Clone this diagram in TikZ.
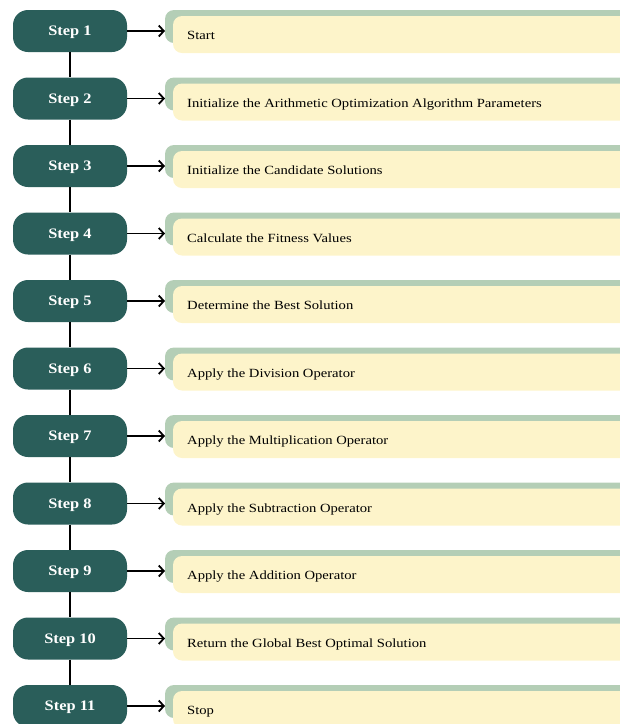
\documentclass[tikz,border=0pt]{standalone}
\usepackage{fontspec}
\setmainfont{Liberation Serif}
\newfontfamily\widefont[FakeStretch=1.17]{Liberation Serif}
\newfontfamily\widebold[FakeStretch=1.13]{Liberation Serif Bold}
\usetikzlibrary{arrows.meta}
\definecolor{teal}{RGB}{42,94,90}
\definecolor{backgreen}{RGB}{180,206,182}
\definecolor{paleyellow}{RGB}{253,244,202}
\tikzset{
  stepbox/.style={draw=none,fill=teal,rounded corners=15pt,minimum width=114pt,minimum height=42pt,
    text=white,font=\widebold\fontsize{14.5}{16}\selectfont,inner sep=0pt,text height=9.5pt,text depth=0pt},
  desc/.style={anchor=base west,font=\widefont\fontsize{12.5}{15}\selectfont,inner sep=0pt,text=black},
  arr/.style={-{Straight Barb[length=5pt,width=11pt,line width=1.8pt]},line width=1.9pt},
  link/.style={line width=1.9pt}
}
\begin{document}
\begin{tikzpicture}[x=1pt,y=-1pt]
\useasboundingbox (0,0) rectangle (620,724);
\foreach \i/\t in {1/Start,2/Initialize the Arithmetic Optimization Algorithm Parameters,3/Initialize the Candidate Solutions,4/Calculate the Fitness Values,5/Determine the Best Solution,6/Apply the Division Operator,7/Apply the Multiplication Operator,8/Apply the Subtraction Operator,9/Apply the Addition Operator,10/Return the Global Best Optimal Solution,11/Stop}{
  \pgfmathsetmacro{\cy}{31+67.5*(\i-1)}
  \fill[backgreen,rounded corners=9pt] (165,\cy-21) rectangle (628,\cy+12);
  \fill[paleyellow,rounded corners=9pt] (173,\cy-15) rectangle (640,\cy+22);
  \coordinate (t\i) at (165,\cy);
  \node[desc] (d\i) at (187,\cy+8.5) {\t};
  \node[stepbox] (s\i) at (70,\cy) {Step \i};
  \draw[arr] (s\i.east) -- (t\i);
}
\foreach \i [evaluate=\i as \j using int(\i+1)] in {1,...,10}{
  \draw[link] (s\i.south) -- (s\j.north);
}
\end{tikzpicture}
\end{document}
